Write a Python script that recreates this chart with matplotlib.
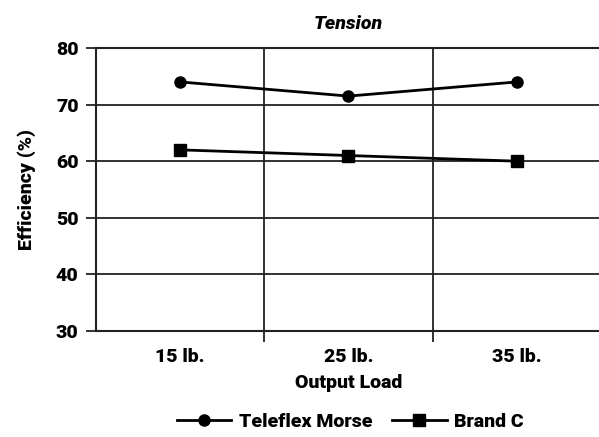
import matplotlib
matplotlib.use("Agg")
import matplotlib.pyplot as plt
from matplotlib.ticker import FixedLocator

# ---------------------------------------------------------------------------
# Data
# ---------------------------------------------------------------------------
loads = ["15 lb.", "25 lb.", "35 lb."]
teleflex_morse = [74.0, 71.5, 74.0]
brand_c = [62.0, 61.0, 60.0]
y_ticks = [30, 40, 50, 60, 70, 80]

plt.rcParams["font.family"] = ["Roboto", "DejaVu Sans"]
plt.rcParams["font.weight"] = "black"
plt.rcParams["axes.labelweight"] = "black"
plt.rcParams["axes.titleweight"] = "black"

FS = 14

fig = plt.figure(figsize=(5.99, 4.37), dpi=100)
ax = fig.add_axes([0.1603, 0.2426, 0.843, 0.6476])

xs = list(range(1, len(loads) + 1))
ax.plot(xs, teleflex_morse, color="black", lw=2, marker="o", ms=8,
        label="Teleflex Morse", clip_on=False, zorder=3)
ax.plot(xs, brand_c, color="black", lw=2, marker="s", ms=8,
        label="Brand C", clip_on=False, zorder=3)

ax.set_xlim(0.5, len(loads) + 0.5)
ax.set_ylim(30, 80)

ax.set_xticks(xs)
ax.set_xticklabels(loads)
ax.xaxis.set_minor_locator(FixedLocator([1.5, 2.5]))
ax.tick_params(axis="x", which="major", length=0, pad=12, labelsize=FS)
ax.tick_params(axis="x", which="minor", length=8, width=1.3, color="#222222")
ax.grid(axis="x", which="minor", color="#222222", lw=1.3)

ax.set_yticks(y_ticks)
ax.tick_params(axis="y", length=7.5, width=1.3, color="#222222", pad=5,
               labelsize=FS)
ax.grid(axis="y", which="major", color="#222222", lw=1.3)

ax.spines["right"].set_visible(False)
for side in ["left", "top", "bottom"]:
    ax.spines[side].set_color("#222222")
    ax.spines[side].set_linewidth(1.5)

ax.set_title("Tension", fontsize=FS, style="italic", pad=14)
ax.set_xlabel("Output Load", fontsize=FS, labelpad=6)
ax.set_ylabel("Efficiency (%)", fontsize=FS, labelpad=14)

fig.legend(loc="center", bbox_to_anchor=(0.585, 0.035), ncol=2,
           frameon=False, handlelength=2.8, columnspacing=1.0,
           fontsize=FS, handletextpad=0.4)

fig.savefig("out.png", dpi=100)
